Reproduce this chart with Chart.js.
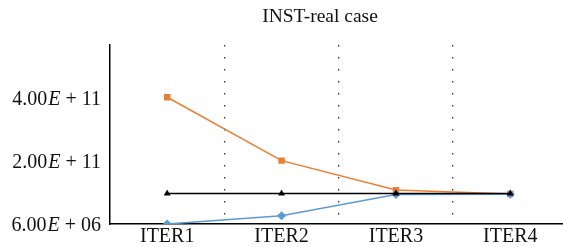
<!DOCTYPE html>
<html>
<head>
<meta charset="utf-8">
<script src="https://cdn.jsdelivr.net/npm/chart.js@4/dist/chart.umd.min.js"></script>
<style>
  html, body { margin: 0; padding: 0; background: #fff; overflow: hidden; }
  #wrap { width: 563px; height: 247px; overflow: hidden; }
</style>
</head>
<body>
<div id="wrap"><canvas id="chart" width="573" height="250"></canvas></div>
<script>
// chart data
const categories = ['ITER1', 'ITER2', 'ITER3', 'ITER4'];
const orangeValues = [4.0e11, 2.0e11, 1.07e11, 0.95e11];
const blueValues = [6.0e6, 2.6e10, 0.93e11, 0.94e11];
const blackValues = [0.96e11, 0.96e11, 0.96e11, 0.96e11];
const yTickValues = [6.0e6, 2.0e11, 4.0e11];
const yTickMantissa = ['6.00', '2.00', '4.00'];
const yTickExponent = ['06', '11', '11'];
const titleText = 'INST-real case';

const serif = '"Liberation Serif", "DejaVu Serif", serif';

// title and y labels drawn by hand so the E can be italic
const customText = {
    id: 'customText',
    afterDraw(chart) {
        const ctx = chart.ctx;
        const yScale = chart.scales.y;
        ctx.save();
        ctx.fillStyle = '#111';
        ctx.textBaseline = 'middle';
        ctx.font = '19.5px ' + serif;
        ctx.textAlign = 'center';
        ctx.fillText(titleText, 320, 17);

        yTickValues.forEach((v, i) => {
            const y = yScale.getPixelForValue(v) + 2;
            let x = 101;
            ctx.textAlign = 'right';
            ctx.font = '20px ' + serif;
            ctx.fillText(yTickExponent[i], x, y);
            x -= ctx.measureText(yTickExponent[i]).width + 5;
            ctx.fillText('+', x, y);
            x -= ctx.measureText('+').width + 5;
            ctx.font = 'italic 20px ' + serif;
            ctx.fillText('E', x, y);
            x -= ctx.measureText('E').width + 1;
            ctx.font = '20px ' + serif;
            ctx.fillText(yTickMantissa[i], x, y);
        });
        ctx.restore();
    }
};

new Chart(document.getElementById('chart'), {
    type: 'line',
    data: {
        labels: categories,
        datasets: [
            {
                label: 'black',
                data: blackValues,
                borderColor: '#000',
                backgroundColor: '#000',
                borderWidth: 1.5,
                pointStyle: 'triangle',
                pointRadius: 2.5,
                tension: 0
            },
            {
                label: 'blue',
                data: blueValues,
                borderColor: '#5B9BD5',
                backgroundColor: '#5B9BD5',
                borderWidth: 1.5,
                pointStyle: 'rectRot',
                pointRadius: 3.5,
                tension: 0
            },
            {
                label: 'orange',
                data: orangeValues,
                borderColor: '#ED7D31',
                backgroundColor: '#ED7D31',
                borderWidth: 1.5,
                pointStyle: 'rect',
                pointRadius: 3.5,
                tension: 0
            }
        ]
    },
    options: {
        responsive: false,
        animation: false,
        layout: { padding: { top: 45, right: 0, left: 0, bottom: 0 } },
        plugins: {
            legend: { display: false },
            title: { display: false },
            tooltip: { enabled: false }
        },
        scales: {
            x: {
                offset: true,
                grid: {
                    offset: true,
                    drawTicks: false,
                    color: c => (c.type === 'tick' && c.index > 0) ? '#333' : 'rgba(0,0,0,0)',
                    lineWidth: 1.3
                },
                border: { display: true, color: '#000', width: 1.5, dash: [1.5, 10.5] },
                ticks: {
                    color: '#111',
                    padding: 3,
                    font: { family: serif, size: 20, lineHeight: 1.0 }
                }
            },
            y: {
                min: 0,
                max: 5.65e11,
                afterBuildTicks: s => { s.ticks = yTickValues.map(v => ({ value: v })); },
                afterFit: s => { s.width = 110; },
                grid: { display: false },
                border: { display: true, color: '#000', width: 1.5 },
                ticks: { display: false }
            }
        }
    },
    plugins: [customText]
});
</script>
</body>
</html>
